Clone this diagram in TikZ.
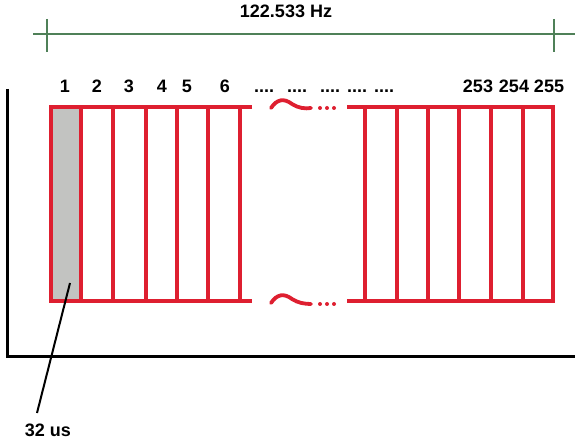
\documentclass[tikz,border=0pt]{standalone}
\usepackage{fontspec}
\setmainfont{Liberation Sans}
\definecolor{slotred}{HTML}{DE1F30}
\definecolor{spangreen}{HTML}{4F8058}
\definecolor{slotgray}{HTML}{C2C3C1}
\begin{document}
\begin{tikzpicture}[x=1pt,y=-1pt,
  slotline/.style={draw=slotred,line width=3.4pt},
  spanline/.style={draw=spangreen,line width=2.8pt},
  axisline/.style={draw=black,line width=3pt},
  lbl/.style={font=\fontsize{18}{20}\selectfont\bfseries,anchor=base,inner sep=0pt}]
\useasboundingbox (0,0) rectangle (575,443);
% frequency span
\draw[spanline] (33,34) -- (575,34);
\draw[spanline] (47,19) -- (47,52);
\draw[spanline] (554,19) -- (554,52);
\node[lbl] (freq) at (286,18) {122.533 Hz};
% axes
\draw[axisline] (7,89) -- (7,356) -- (575,356);
% first slot
\fill[slotgray] (51,107) rectangle (81,301);
% left block of slots
\draw[slotline] (252,107) -- (51,107) -- (51,301) -- (252,301);
\draw[slotline] (81,107) -- (81,301);
\draw[slotline] (113,107) -- (113,301);
\draw[slotline] (146,107) -- (146,301);
\draw[slotline] (177,107) -- (177,301);
\draw[slotline] (208,107) -- (208,301);
\draw[slotline] (240,107) -- (240,301);
% breaks
\draw[slotline,line width=3.8pt,line cap=round] (271,108) .. controls (277,99) and (284,98) .. (292,104) .. controls (298,108) and (305,109) .. (311,108);
\draw[slotline,line width=3.8pt,line cap=round] (271,303) .. controls (277,294) and (284,293) .. (292,299) .. controls (298,303) and (305,304) .. (311,304);
\fill[slotred] (320,108) circle (2) (327,108) circle (2) (334,108) circle (2);
\fill[slotred] (320,304) circle (2) (327,304) circle (2) (334,304) circle (2);
% right block of slots
\draw[slotline] (347,107) -- (553,107) -- (553,301) -- (347,301);
\draw[slotline] (365,107) -- (365,301);
\draw[slotline] (397,107) -- (397,301);
\draw[slotline] (428,107) -- (428,301);
\draw[slotline] (459,107) -- (459,301);
\draw[slotline] (491,107) -- (491,301);
\draw[slotline] (523,107) -- (523,301);
% slot numbers
\node[lbl] (n1) at (65,93) {1};
\node[lbl] (n2) at (97,93) {2};
\node[lbl] (n3) at (129,93) {3};
\node[lbl] (n4) at (162,93) {4};
\node[lbl] (n5) at (187,93) {5};
\node[lbl] (n6) at (225,93) {6};
\node[lbl] (d1) at (264,93) {....};
\node[lbl] (d2) at (297,93) {....};
\node[lbl] (d3) at (330,93) {....};
\node[lbl] (d4) at (357,93) {....};
\node[lbl] (d5) at (384,93) {....};
\node[lbl] (n253) at (478,93) {253};
\node[lbl] (n254) at (514,93) {254};
\node[lbl] (n255) at (549,93) {255};
% slot duration
\coordinate (tip) at (70,283);
\coordinate (tail) at (37,413);
\node[lbl] (dur) at (48,436) {32 us};
\draw[line width=2pt] (tip) -- (tail);
\end{tikzpicture}
\end{document}
